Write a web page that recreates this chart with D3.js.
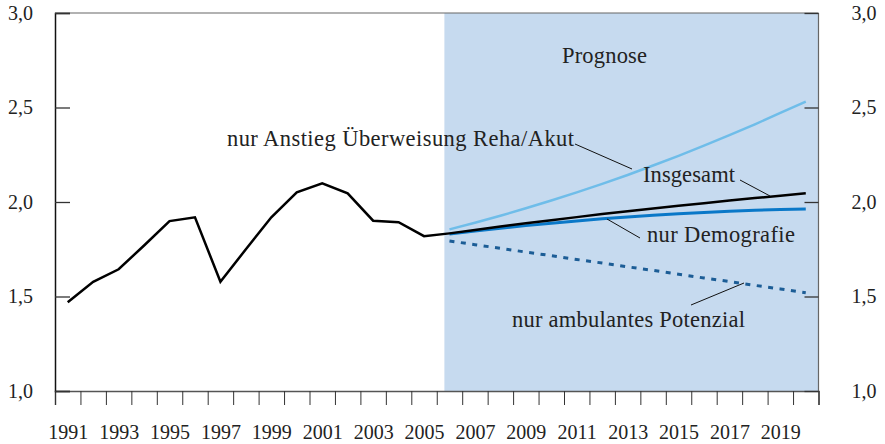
<!DOCTYPE html>
<html lang="de">
<head>
<meta charset="UTF-8">
<title>Prognose</title>
<script src="https://cdn.jsdelivr.net/npm/d3@7"></script>
<style>
body { margin: 0; background: #fff; }
svg { display: block; font-family: "Liberation Serif", "DejaVu Serif", serif; }
.axis text { font-size: 20px; fill: #222; font-family: "Liberation Serif", serif; }
.lbl { font-size: 22.5px; fill: #222; }
</style>
</head>
<body>
<svg id="chart" width="885" height="444"></svg>
<script>
// historische Werte 1991-2005
const histYears = d3.range(1991, 2006)
const histVals = [1.47, 1.578, 1.644, 1.77, 1.899, 1.919, 1.578, 1.75, 1.919, 2.051, 2.099, 2.046, 1.901, 1.893, 1.819]

// Prognose 2006-2020
const progYears = d3.range(2006, 2021)
const insgesamt = [1.834, 1.852, 1.870, 1.887, 1.904, 1.920, 1.936, 1.951, 1.966, 1.980, 1.994, 2.008, 2.021, 2.033, 2.046]
const rehaAkut = [1.855, 1.890, 1.927, 1.967, 2.008, 2.051, 2.096, 2.143, 2.193, 2.244, 2.298, 2.354, 2.411, 2.471, 2.531]
const demografie = [1.830, 1.846, 1.861, 1.875, 1.888, 1.900, 1.911, 1.921, 1.930, 1.938, 1.945, 1.951, 1.956, 1.960, 1.963]
const ambulant = [1.794, 1.774, 1.755, 1.735, 1.716, 1.696, 1.677, 1.657, 1.638, 1.618, 1.598, 1.579, 1.559, 1.540, 1.520]

const yTicks = [1.0, 1.5, 2.0, 2.5, 3.0]
const yearLabels = d3.range(1991, 2020, 2)
const progStart = 2005.8

const svg = d3.select('#chart')
const x = d3.scaleLinear().domain([1990.5, 2020.5]).range([55, 818.5])
const y = d3.scaleLinear().domain([1, 3]).range([391, 13])

const fmt = d => d3.format('.1f')(d).replace('.', ',')

// Prognose-Hintergrund
svg.append('rect')
	.attr('x', x(progStart)).attr('y', y(3))
	.attr('width', x(2020.5) - x(progStart))
	.attr('height', y(1) - y(3))
	.attr('fill', '#c6daef')

// Rahmen oben / rechts
svg.append('line').attr('x1', x(1990.5)).attr('x2', x(2020.5)).attr('y1', y(3)).attr('y2', y(3))
	.attr('stroke', '#666').attr('stroke-width', 1.2)
svg.append('line').attr('x1', x(2020.5)).attr('x2', x(2020.5)).attr('y1', y(3)).attr('y2', y(1))
	.attr('stroke', '#666').attr('stroke-width', 1.2)

// x-Achse: Striche an Jahresgrenzen, Beschriftung mittig
const gx = svg.append('g').attr('class', 'axis').attr('transform', `translate(0,${y(1)})`)
	.call(d3.axisBottom(x).tickValues(d3.range(1990.5, 2021, 1)).tickSize(14).tickFormat(''))
gx.select('.domain').attr('stroke', '#555').attr('stroke-width', 1.5)
gx.selectAll('.tick line').attr('stroke', '#333')

const gxl = svg.append('g').attr('class', 'axis').attr('transform', `translate(0,${y(1)})`)
	.call(d3.axisBottom(x).tickValues(yearLabels).tickSize(0).tickPadding(34).tickFormat(d3.format('d')))
gxl.select('.domain').remove()

// y-Achsen
const gyl = svg.append('g').attr('class', 'axis').attr('transform', `translate(${x(1990.5)},0)`)
	.call(d3.axisLeft(y).tickValues(yTicks).tickSize(-15).tickPadding(22).tickFormat(fmt))
gyl.select('.domain').attr('stroke', '#111').attr('stroke-width', 1.5)
gyl.selectAll('.tick line').attr('stroke', '#333').attr('stroke-width', 1.3)

const gyr = svg.append('g').attr('class', 'axis').attr('transform', `translate(${x(2020.5)},0)`)
	.call(d3.axisRight(y).tickValues(yTicks).tickSize(-14).tickPadding(33).tickFormat(fmt))
gyr.select('.domain').remove()
gyr.selectAll('.tick line').attr('stroke', '#333').attr('stroke-width', 1.3)

// Linien
const line = d3.line().x(d => x(d[0])).y(d => y(d[1]))
const zip = (ys, vs) => ys.map((yr, i) => [yr, vs[i]])

svg.append('path').datum(zip(progYears, rehaAkut)).attr('d', line)
	.attr('fill', 'none').attr('stroke', '#6fbde9').attr('stroke-width', 2.5)
svg.append('path').datum(zip(progYears, demografie)).attr('d', line)
	.attr('fill', 'none').attr('stroke', '#0a78c8').attr('stroke-width', 3)
svg.append('path').datum(zip(progYears, ambulant)).attr('d', line)
	.attr('fill', 'none').attr('stroke', '#1c5d96').attr('stroke-width', 3)
	.attr('stroke-dasharray', '5,6.5')
svg.append('path').datum(zip(histYears, histVals).concat(zip(progYears, insgesamt))).attr('d', line)
	.attr('fill', 'none').attr('stroke', '#000').attr('stroke-width', 2.5)
	.attr('stroke-linejoin', 'miter')

// Beschriftungen und Hinweislinien (Textbreite wie im Original)
const labels = [
	{ t: 'Prognose', x: 562, y: 63, w: 85 },
	{ t: 'nur Anstieg Überweisung Reha/Akut', x: 227, y: 146, w: 347, l: [575, 144, 632, 169] },
	{ t: 'Insgesamt', x: 643, y: 182, w: 92, l: [740, 180, 770, 196] },
	{ t: 'nur Demografie', x: 647, y: 242, w: 148, l: [640, 238, 607, 219] },
	{ t: 'nur ambulantes Potenzial', x: 512, y: 327, w: 233, l: [691, 305, 744, 283] },
]
labels.forEach(d => {
	svg.append('text').attr('class', 'lbl').attr('x', d.x).attr('y', d.y)
		.attr('textLength', d.w).attr('lengthAdjust', 'spacing').text(d.t)
	if (d.l) svg.append('line')
		.attr('x1', d.l[0]).attr('y1', d.l[1]).attr('x2', d.l[2]).attr('y2', d.l[3])
		.attr('stroke', '#111').attr('stroke-width', 1)
})
</script>
</body>
</html>
